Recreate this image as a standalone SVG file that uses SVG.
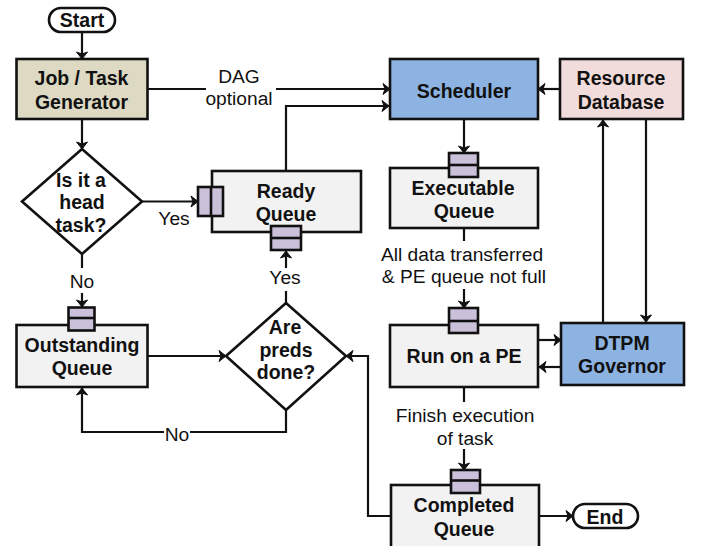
<svg xmlns="http://www.w3.org/2000/svg" width="702" height="546" viewBox="0 0 702 546">
<style>
text{font-family:"Liberation Sans",Arial,sans-serif;font-size:19.200px;text-anchor:middle;fill:#111}
.b{font-weight:bold;font-size:19.500px}
.s{stroke:#111;stroke-width:2.600}
.c{fill:none;stroke:#111;stroke-width:2.200}
.t{stroke:#111;stroke-width:2.600;fill:#cbc0da}
.q{fill:#f2f2f2}
</style>
<defs>
<marker id="a" markerUnits="userSpaceOnUse" markerWidth="12" markerHeight="14" refX="10" refY="7" orient="auto"><path d="M3 1.500L10 7L3 12.500L5 7Z" fill="#111" stroke="#111" stroke-width="1"/></marker>
</defs>
<rect width="702" height="546" fill="#fff"/>
<g id="connectors">
<path class="c" marker-end="url(#a)" d="M82 32V59"/>
<path class="c" marker-end="url(#a)" d="M82 119V149"/>
<path class="c" d="M82 254V268"/>
<path class="c" marker-end="url(#a)" d="M82 293V307"/>
<path class="c" marker-end="url(#a)" d="M142 201.500H198"/>
<path class="c" d="M148 89H206"/>
<path class="c" marker-end="url(#a)" d="M276 89H390"/>
<path class="c" marker-end="url(#a)" d="M286 171V106H389"/>
<path class="c" marker-end="url(#a)" d="M560 89H538"/>
<path class="c" marker-end="url(#a)" d="M464 119V153"/>
<path class="c" d="M464 228V241"/>
<path class="c" marker-end="url(#a)" d="M464 289V308"/>
<path class="c" marker-end="url(#a)" d="M603 323V120"/>
<path class="c" marker-end="url(#a)" d="M646 120V322"/>
<path class="c" marker-end="url(#a)" d="M539 340H561"/>
<path class="c" marker-end="url(#a)" d="M561 367H539"/>
<path class="c" d="M464 387V402"/>
<path class="c" marker-end="url(#a)" d="M464 449V470"/>
<path class="c" marker-end="url(#a)" d="M391 516H368V356H346"/>
<path class="c" marker-end="url(#a)" d="M539 516H573"/>
<path class="c" marker-end="url(#a)" d="M148 356H226"/>
<path class="c" d="M286 410V432H190"/>
<path class="c" marker-end="url(#a)" d="M164 432H82V388"/>
<path class="c" d="M286 303V291"/>
<path class="c" marker-end="url(#a)" d="M286 268V251"/>
</g>
<g id="start"><rect class="s" x="49" y="8" width="66" height="24" rx="12" fill="#fff"/><text class="b" x="82" y="27">Start</text></g>
<g id="generator"><rect class="s" x="16.500" y="59" width="131" height="60" fill="#ddd9c3"/><text class="b" x="81.500" y="85">Job / Task</text><text class="b" x="81.500" y="109">Generator</text></g>
<g id="head-task"><path class="s" d="M22 201.500L82 149L142 201.500L82 254Z" fill="#fff"/><text class="b" x="81" y="187">Is it a</text><text class="b" x="82" y="209">head</text><text class="b" x="81" y="232">task?</text></g>
<g id="ready-queue"><rect class="s q" x="212" y="171" width="149" height="61"/><text class="b" x="286" y="198">Ready</text><text class="b" x="286" y="221">Queue</text><rect class="t" x="198" y="187" width="25" height="29"/><path class="s" d="M211 187V216"/><rect class="t" x="271" y="226" width="30" height="24"/><path class="s" d="M271 238H301"/></g>
<g id="scheduler"><rect class="s" x="390" y="59" width="148" height="60" fill="#8db3e2"/><text class="b" x="464" y="98">Scheduler</text></g>
<g id="resource-db"><rect class="s" x="560" y="59" width="123" height="60" fill="#f2dcdb"/><text class="b" x="621" y="85">Resource</text><text class="b" x="621" y="109">Database</text></g>
<g id="executable-queue"><rect class="s q" x="390" y="168" width="148" height="60"/><text class="b" x="463" y="195">Executable</text><text class="b" x="464" y="218">Queue</text><rect class="t" x="449" y="153" width="29" height="24"/><path class="s" d="M449 165H478"/></g>
<g id="outstanding-queue"><rect class="s q" x="16.500" y="325" width="131" height="62"/><text class="b" x="82" y="352">Outstanding</text><text class="b" x="82" y="375">Queue</text><rect class="t" x="68.500" y="307.500" width="26" height="23"/><path class="s" d="M68.500 318H94.500"/></g>
<g id="preds-done"><path class="s" d="M226 356L286 303L346 356L286 410Z" fill="#fff"/><text class="b" x="285" y="334">Are</text><text class="b" x="286" y="357">preds</text><text class="b" x="286" y="379">done?</text></g>
<g id="run-pe"><rect class="s q" x="390" y="325" width="148" height="62"/><text class="b" x="464" y="363">Run on a PE</text><rect class="t" x="449" y="308" width="29" height="25"/><path class="s" d="M449 321H478"/></g>
<g id="dtpm"><rect class="s" x="561" y="323" width="123" height="62" fill="#8db3e2"/><text class="b" x="622" y="350">DTPM</text><text class="b" x="622" y="373">Governor</text></g>
<g id="completed-queue"><rect class="s q" x="391" y="485" width="148" height="70"/><text class="b" x="464" y="512">Completed</text><text class="b" x="464" y="536">Queue</text><rect class="t" x="451" y="470" width="29" height="23"/><path class="s" d="M451 480.500H480"/></g>
<g id="end"><rect class="s" x="573" y="504" width="65" height="24" rx="12" fill="#fff"/><text class="b" x="605" y="524">End</text></g>
<g id="labels">
<text x="239" y="83">DAG</text><text x="239" y="105">optional</text>
<text x="174" y="225">Yes</text><text x="82" y="288">No</text><text x="285" y="284">Yes</text>
<text x="177" y="441">No</text>
<text x="462" y="261">All data transferred</text><text x="464" y="283">&amp; PE queue not full</text>
<text x="465" y="422">Finish execution</text><text x="465" y="445">of task</text>
</g>
</svg>
